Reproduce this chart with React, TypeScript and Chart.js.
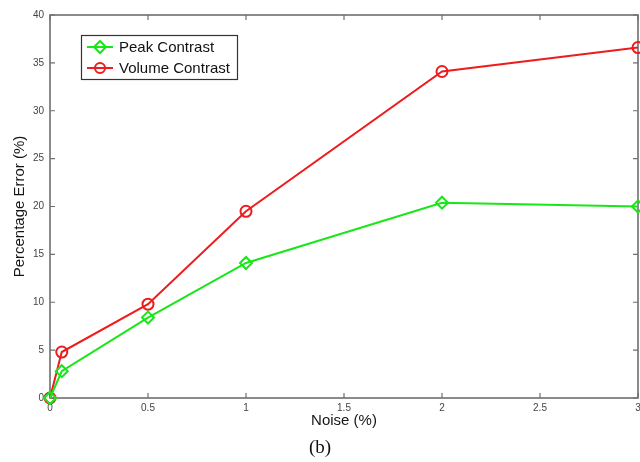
import React, { useEffect, useRef } from "react";
import { Chart, registerables } from "chart.js";

Chart.register(...registerables);

const noise = [0, 0.06, 0.5, 1, 2, 3];
const peakContrast = [0, 2.8, 8.4, 14.1, 20.4, 20.0];
const volumeContrast = [0, 4.8, 9.8, 19.5, 34.1, 36.6];
const seriesNames = ["Peak Contrast", "Volume Contrast"];
const seriesColors = ["#19e619", "#ee1c1c"];
const seriesMarkers = ["rectRot", "circle"];
const xTitle = "Noise (%)";
const yTitle = "Percentage Error (%)";
const caption = "(b)";
const xMax = 3;
const yMax = 40;

const AXIS_COLOR = "#6f6f6f";
const FONT = "'Liberation Sans', Arial, sans-serif";

function drawMarker(ctx: CanvasRenderingContext2D, kind: string, x: number, y: number, r: number) {
  ctx.beginPath();
  if (kind === "circle") {
    ctx.arc(x, y, r, 0, Math.PI * 2);
  } else {
    ctx.moveTo(x, y - r);
    ctx.lineTo(x + r, y);
    ctx.lineTo(x, y + r);
    ctx.lineTo(x - r, y);
    ctx.closePath();
  }
  ctx.stroke();
}

const boxPlugin = {
  id: "matlabBox",
  beforeDatasetsDraw(chart: any) {
    const { ctx, chartArea } = chart;
    const { left, right, top, bottom } = chartArea;
    const xs = chart.scales.x;
    const ys = chart.scales.y;
    const tl = 5;
    ctx.save();
    ctx.strokeStyle = AXIS_COLOR;
    ctx.lineWidth = 1.6;
    ctx.strokeRect(left, top, right - left, bottom - top);
    ctx.lineWidth = 1.2;
    ctx.beginPath();
    xs.ticks.forEach((t: any) => {
      const px = xs.getPixelForValue(t.value);
      ctx.moveTo(px, bottom);
      ctx.lineTo(px, bottom - tl);
      ctx.moveTo(px, top);
      ctx.lineTo(px, top + tl);
    });
    ys.ticks.forEach((t: any) => {
      const py = ys.getPixelForValue(t.value);
      ctx.moveTo(left, py);
      ctx.lineTo(left + tl, py);
      ctx.moveTo(right, py);
      ctx.lineTo(right - tl, py);
    });
    ctx.stroke();
    ctx.restore();
  },
};

const legendPlugin = {
  id: "matlabLegend",
  afterDatasetsDraw(chart: any) {
    const { ctx, chartArea } = chart;
    const bx = chartArea.left + 31;
    const by = chartArea.top + 20;
    const bw = 156;
    const bh = 44;
    ctx.save();
    ctx.fillStyle = "#ffffff";
    ctx.fillRect(bx, by, bw, bh);
    ctx.strokeStyle = "#333333";
    ctx.lineWidth = 1.2;
    ctx.strokeRect(bx + 0.5, by + 0.5, bw, bh);
    chart.data.datasets.forEach((ds: any, i: number) => {
      const cy = by + 12 + i * 21;
      ctx.strokeStyle = ds.borderColor;
      ctx.lineWidth = 2;
      ctx.beginPath();
      ctx.moveTo(bx + 6, cy);
      ctx.lineTo(bx + 32, cy);
      ctx.stroke();
      drawMarker(ctx, ds.pointStyle, bx + 19, cy, ds.pointStyle === "circle" ? 5 : 6);
      ctx.fillStyle = "#111111";
      ctx.font = `15px ${FONT}`;
      ctx.textBaseline = "middle";
      ctx.textAlign = "left";
      ctx.fillText(ds.label, bx + 38, cy + 1);
    });
    ctx.restore();
  },
};

export default function App() {
  const canvasRef = useRef<HTMLCanvasElement | null>(null);

  useEffect(() => {
    const canvas = canvasRef.current;
    if (!canvas) return;
    const series = [peakContrast, volumeContrast];
    const chart = new Chart(canvas, {
      type: "line",
      data: {
        datasets: series.map((vals, i) => ({
          label: seriesNames[i],
          data: noise.map((x, j) => ({ x, y: vals[j] })),
          borderColor: seriesColors[i],
          backgroundColor: "transparent",
          borderWidth: 2,
          pointStyle: seriesMarkers[i] as any,
          pointRadius: seriesMarkers[i] === "circle" ? 5.5 : 6,
          pointBorderWidth: 2,
          pointBorderColor: seriesColors[i],
          pointBackgroundColor: "transparent",
          tension: 0,
          clip: false as any,
        })),
      },
      options: {
        responsive: false,
        animation: false,
        maintainAspectRatio: false,
        layout: { autoPadding: false, padding: { top: 15, right: 2, left: 0, bottom: 0 } } as any,
        plugins: {
          legend: { display: false },
          tooltip: { enabled: false },
        },
        scales: {
          x: {
            type: "linear",
            min: 0,
            max: xMax,
            grid: { display: false, drawTicks: false },
            border: { display: false },
            ticks: {
              stepSize: 0.5,
              padding: 4,
              maxRotation: 0,
              color: "#444444",
              font: { family: FONT, size: 10 },
              callback: (v: any) => String(v),
            },
            title: {
              display: true,
              text: xTitle,
              color: "#151515",
              font: { family: FONT, size: 15 },
              padding: { top: 0, bottom: 32 },
            },
            afterFit: (s: any) => {
              s.height = 64;
              s.paddingLeft = 0;
              s.paddingRight = 0;
            },
          },
          y: {
            type: "linear",
            min: 0,
            max: yMax,
            grid: { display: false, drawTicks: false },
            border: { display: false },
            ticks: {
              stepSize: 5,
              padding: 6,
              color: "#444444",
              font: { family: FONT, size: 10 },
            },
            title: {
              display: true,
              text: yTitle,
              color: "#151515",
              font: { family: FONT, size: 15 },
              padding: { top: 11, bottom: 0 },
            },
            afterFit: (s: any) => {
              s.width = 50;
              s.paddingTop = 0;
              s.paddingBottom = 0;
            },
          },
        },
      },
      plugins: [boxPlugin, legendPlugin],
    });
    return () => chart.destroy();
  }, []);

  return (
    <div style={{ position: "absolute", left: 0, top: 0, width: 640, height: 462, background: "#fff", overflow: "hidden" }}>
      <canvas ref={canvasRef} width={640} height={462} style={{ display: "block" }} />
      <div
        style={{
          position: "absolute",
          left: 0,
          width: 640,
          top: 436,
          textAlign: "center",
          fontFamily: "'Liberation Serif', 'Times New Roman', serif",
          fontSize: 19,
          lineHeight: "22px",
          color: "#111",
        }}
      >
        <span style={{ position: "relative", left: 0 }}>{caption}</span>
      </div>
    </div>
  );
}
